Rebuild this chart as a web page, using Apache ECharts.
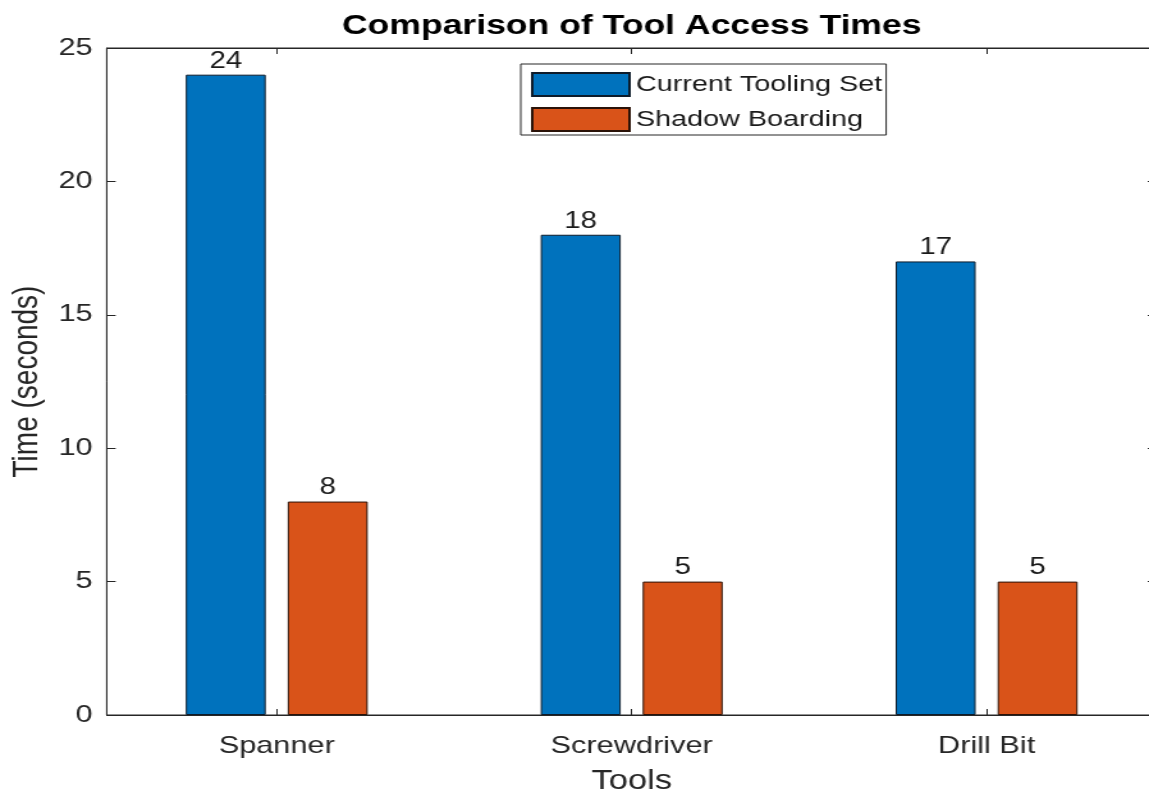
<!DOCTYPE html>
<html>
<head>
<meta charset="utf-8">
<title>Comparison of Tool Access Times</title>
<script src="https://cdn.jsdelivr.net/npm/echarts@6/dist/echarts.min.js"></script>
<style>
  html, body { margin: 0; padding: 0; background: #ffffff; overflow: hidden; }
  /* The figure is laid out on a narrower canvas and widened horizontally,
     which gives the wide, stretched look of the exported figure. */
  #chart {
    width: 898px;
    height: 793px;
    transform: scaleX(1.2795);
    transform-origin: 0 0;
  }
</style>
</head>
<body>
<div id="chart"></div>
<script>
// ---- data ----
const categories = ['Spanner', 'Screwdriver', 'Drill Bit'];
const currentTooling = [24, 18, 17];
const shadowBoarding = [8, 5, 5];
const seriesNames = ['Current Tooling Set', 'Shadow Boarding'];
const yTickValues = [0, 5, 10, 15, 20, 25];

// ---- styling ----
const AXIS = '#262626';
const FONT = '"Liberation Sans", Arial, Helvetica, sans-serif';
const BLUE = '#0072BD';
const ORANGE = '#D95319';

// categories sit at x = 1, 2, 3 on a numeric axis (limits as in the figure)
const catPositions = categories.map((c, i) => i + 1);
const toPairs = vals => vals.map((v, i) => [catPositions[i], v]);

const chart = echarts.init(document.getElementById('chart'), null, { renderer: 'canvas' });

// every axis stays on its own edge of the box
const boxLine = { show: true, onZero: false, lineStyle: { color: AXIS, width: 1 } };

const inTicksX = {
  show: true, inside: true, length: 6,
  customValues: catPositions,
  lineStyle: { color: AXIS, width: 1 }
};
const inTicksY = {
  show: true, inside: true, length: 7,
  customValues: yTickValues,
  lineStyle: { color: AXIS, width: 1 }
};

const barLabel = {
  show: true,
  position: 'top',
  distance: 2,
  color: '#1a1a1a',
  fontFamily: FONT,
  fontSize: 23
};

chart.setOption({
  animation: false,
  backgroundColor: '#ffffff',
  title: {
    text: 'Comparison of Tool Access Times',
    left: 493.7,
    textAlign: 'center',
    top: 12,
    padding: 0,
    textStyle: { fontFamily: FONT, fontSize: 27.8, fontWeight: 'bold', color: '#000000' }
  },
  legend: {
    orient: 'vertical',
    left: 407,
    top: 64,
    padding: [8, 3, 3, 8],
    itemGap: 10,
    itemWidth: 76,
    itemHeight: 23,
    borderColor: AXIS,
    borderWidth: 1,
    backgroundColor: '#ffffff',
    icon: 'rect',
    selectedMode: false,
    data: seriesNames,
    textStyle: { fontFamily: FONT, fontSize: 22.5, color: '#1a1a1a' }
  },
  grid: {
    left: 83.4,
    right: -6,
    top: 48,
    bottom: 78,
    show: true,
    borderColor: AXIS,
    borderWidth: 1,
    backgroundColor: 'transparent',
    containLabel: false,
    outerBoundsMode: 'none'
  },
  xAxis: [
    {
      type: 'value',
      position: 'bottom',
      min: 0.521,
      max: 3.479,
      axisLine: boxLine,
      splitLine: { show: false },
      axisTick: inTicksX,
      axisLabel: {
        customValues: catPositions,
        formatter: v => categories[Math.round(v) - 1],
        margin: 19,
        color: AXIS,
        fontFamily: FONT,
        fontSize: 24
      },
      name: 'Tools',
      nameLocation: 'middle',
      nameGap: 53,
      nameTextStyle: { fontFamily: FONT, fontSize: 27, color: AXIS }
    },
    {
      type: 'value',
      position: 'top',
      min: 0.521,
      max: 3.479,
      axisLine: boxLine,
      splitLine: { show: false },
      axisTick: inTicksX,
      axisLabel: { show: false }
    }
  ],
  yAxis: [
    {
      type: 'value',
      position: 'left',
      min: 0,
      max: 25,
      interval: 5,
      axisLine: boxLine,
      splitLine: { show: false },
      axisTick: inTicksY,
      axisLabel: {
        margin: 11,
        color: AXIS,
        fontFamily: FONT,
        fontSize: 24
      },
      name: 'Time (seconds)',
      nameLocation: 'middle',
      nameGap: 47,
      nameTextStyle: { fontFamily: FONT, fontSize: 28, color: AXIS }
    },
    {
      type: 'value',
      position: 'right',
      min: 0,
      max: 25,
      interval: 5,
      axisLine: boxLine,
      splitLine: { show: false },
      axisTick: inTicksY,
      axisLabel: { show: false }
    }
  ],
  series: [
    {
      name: seriesNames[0],
      type: 'bar',
      xAxisIndex: 0,
      yAxisIndex: 0,
      barWidth: 62.5,
      barGap: '27.5%',
      data: toPairs(currentTooling),
      itemStyle: { color: BLUE, borderColor: '#0d1b2a', borderWidth: 1 },
      label: barLabel
    },
    {
      name: seriesNames[1],
      type: 'bar',
      xAxisIndex: 0,
      yAxisIndex: 0,
      barWidth: 62.5,
      barGap: '27.5%',
      data: toPairs(shadowBoarding),
      itemStyle: { color: ORANGE, borderColor: '#2a1208', borderWidth: 1 },
      label: barLabel
    }
  ]
});
</script>
</body>
</html>
